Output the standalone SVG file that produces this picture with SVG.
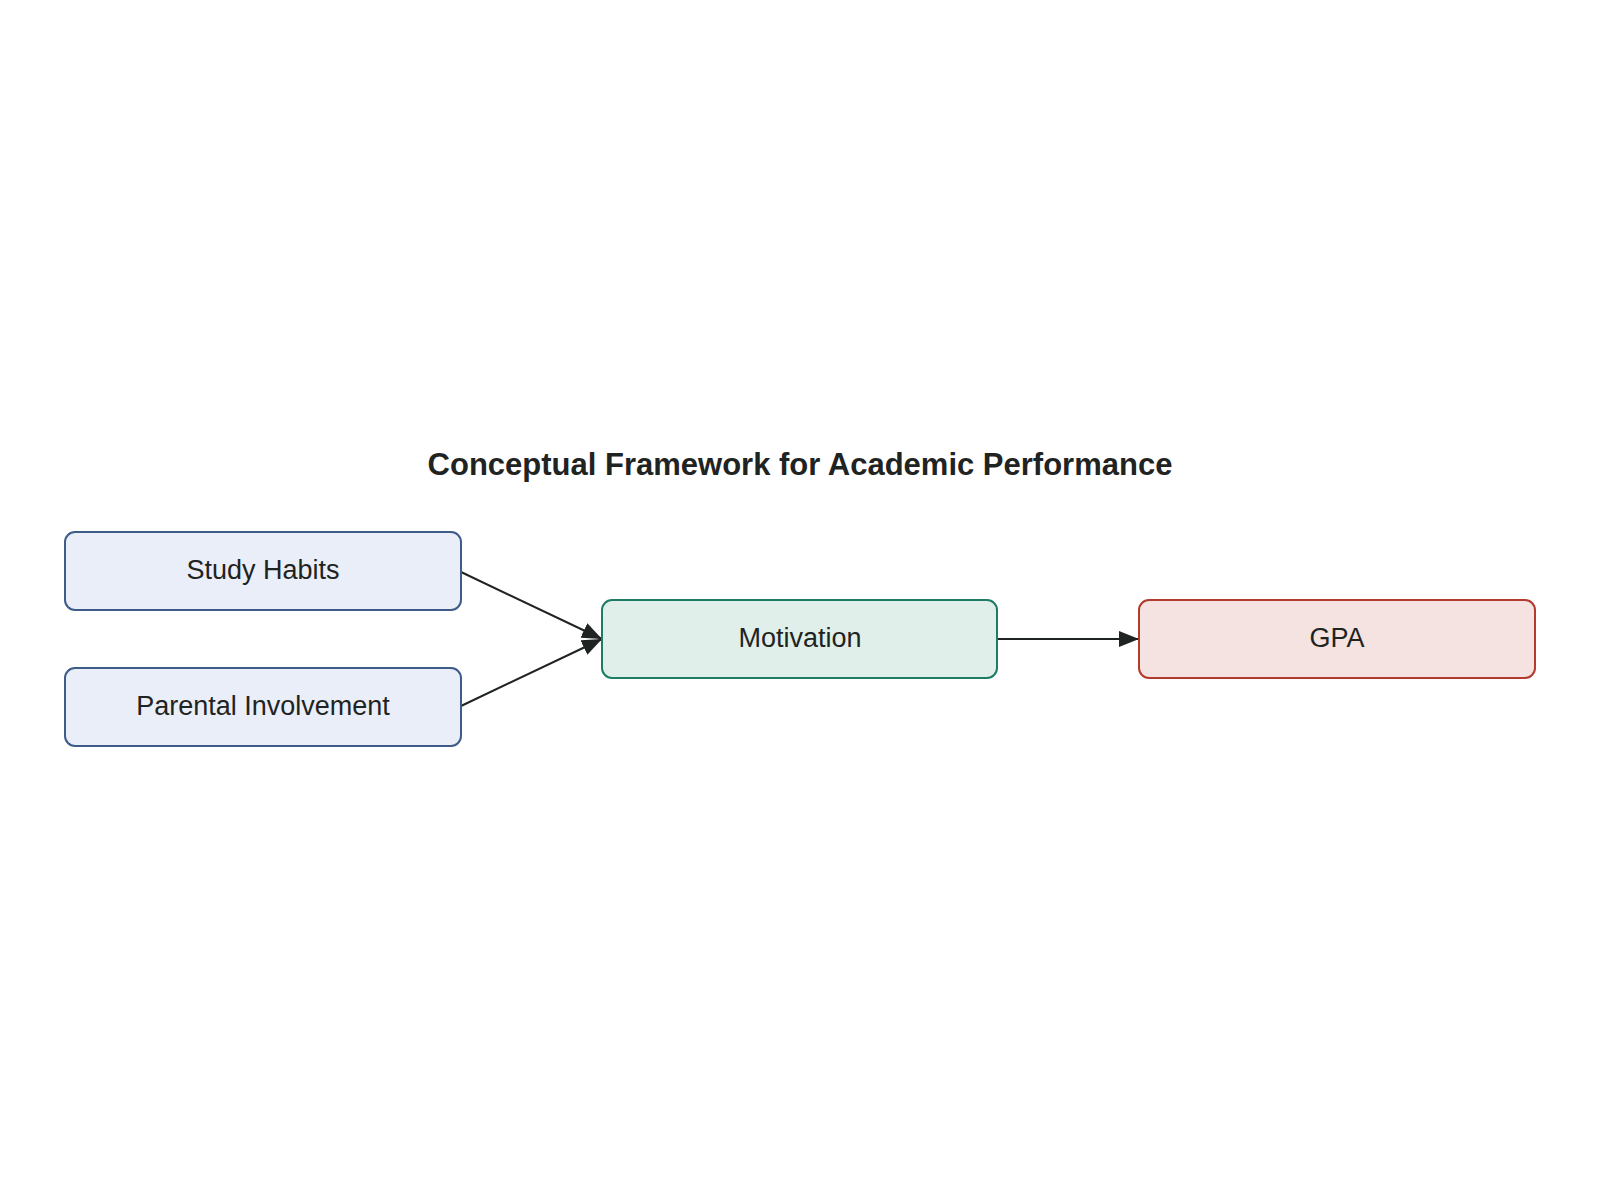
<svg xmlns="http://www.w3.org/2000/svg" width="1600" height="1200" viewBox="0 0 1600 1200">
<defs>
<marker id="arr" viewBox="0 0 20 16" refX="20" refY="8" markerWidth="20" markerHeight="16" markerUnits="userSpaceOnUse" orient="auto">
<path d="M0,0 L20,8 L0,16 Z" fill="#1f2322"/>
</marker>
<style>
.node rect{stroke-width:2}
.lbl{font-family:"Liberation Sans",Arial,sans-serif;font-size:27px;fill:#1f2322;text-anchor:middle;dominant-baseline:central}
.blue rect{fill:#e9eef8;stroke:#3e5c89}
.green rect{fill:#e1efea;stroke:#1e7b64}
.red rect{fill:#f4e3e0;stroke:#b23b2e}
.edge{stroke:#1f2322;stroke-width:2;fill:none;marker-end:url(#arr)}
.title{font-family:"Liberation Sans",Arial,sans-serif;font-size:31px;font-weight:bold;fill:#1f2322;text-anchor:middle}
</style>
</defs>
<rect width="1600" height="1200" fill="#ffffff"/>
<text class="title" x="800" y="475">Conceptual Framework for Academic Performance</text>
<g id="connectors">
<line class="edge" x1="461" y1="572" x2="602" y2="639"/>
<line class="edge" x1="461" y1="706" x2="602" y2="639"/>
<line class="edge" x1="997" y1="639" x2="1139" y2="639"/>
</g>
<g id="study-habits" class="node blue">
<rect x="65" y="532" width="396" height="78" rx="10"/>
<text class="lbl" x="263" y="570">Study Habits</text>
</g>
<g id="parental-involvement" class="node blue">
<rect x="65" y="668" width="396" height="78" rx="10"/>
<text class="lbl" x="263" y="706">Parental Involvement</text>
</g>
<g id="motivation" class="node green">
<rect x="602" y="600" width="395" height="78" rx="10"/>
<text class="lbl" x="800" y="638">Motivation</text>
</g>
<g id="gpa" class="node red">
<rect x="1139" y="600" width="396" height="78" rx="10"/>
<text class="lbl" x="1337" y="638">GPA</text>
</g>
</svg>
